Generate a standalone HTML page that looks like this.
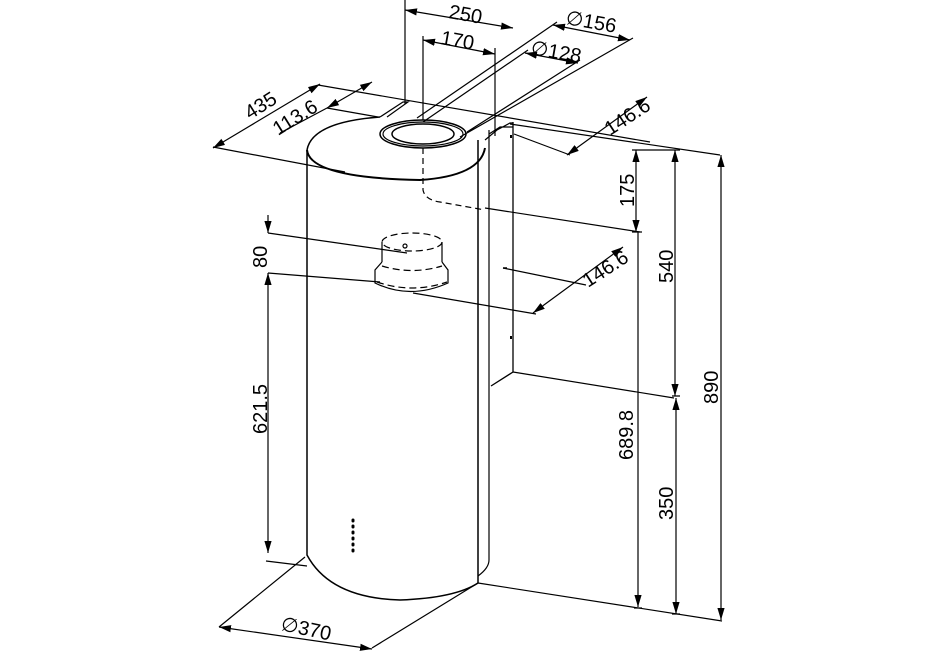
<!DOCTYPE html>
<html><head><meta charset="utf-8"><style>
html,body{margin:0;padding:0;background:#fff;}
svg{display:block;}
text{font-family:"Liberation Sans",Arial,sans-serif;font-size:20px;fill:#000;}
</style></head><body>
<svg width="934" height="655" viewBox="0 0 934 655" xmlns="http://www.w3.org/2000/svg">
<defs>
<marker id="a" viewBox="0 0 10 10" refX="10" refY="5" markerWidth="12" markerHeight="12" markerUnits="userSpaceOnUse" orient="auto-start-reverse"><path d="M0,2 L10,5 L0,8 z" fill="#000"/></marker>
</defs>
<g fill="none" stroke="#000" stroke-width="1.2">
<!-- cylinder -->
<path d="M307,150 L307,555 Q330,598 400,600 Q455,598 478,583 L478,140" stroke-width="1.5"/>
<path d="M307,150 Q310,178 420,180 Q480,176 485,148" stroke-width="2"/>
<path d="M307,150 Q312,122 380,117" stroke-width="1.5"/>
<path d="M478,576 Q489,568 489,560 L489,130"/>
<path d="M380,117 L403,102 L408,102 L387,117"/>
<path d="M485,140 L497,130 L510,123 L513,123 M489,134 L500,127 L513,127"/>
<!-- ring -->
<ellipse cx="423" cy="134" rx="43" ry="14" stroke-width="1.5"/>
<ellipse cx="423" cy="134" rx="40" ry="12"/>
<ellipse cx="423" cy="134" rx="31" ry="10" stroke-width="1.5"/>
<!-- dashed duct -->
<path d="M423,148 L423,190 Q425,200 440,202 L485,210" stroke-dasharray="6,4"/>
<!-- wall bracket -->
<path d="M513,122 L513,372 L491,386" stroke-width="1.3"/>
<path d="M513,372 L674,398"/>
<path d="M478,583 L722,621"/>
<path d="M503,268 L507,268" stroke-width="1.5"/>
<path d="M511,135 L511,138 M511,336 L511,339" stroke-width="2"/>
<!-- cone -->
<ellipse cx="412" cy="242" rx="30" ry="9" stroke-dasharray="7,4"/>
<path d="M382,242 L382,262 M442,242 L442,262"/>
<path d="M382,266 Q412,275 442,266" stroke-dasharray="7,4"/>
<path d="M382,262 L375,270 L375,283 Q410,300 448,283 L448,270 L442,262"/>
<path d="M377,282 Q412,294 447,282" stroke-dasharray="7,4"/>
<circle cx="405" cy="246" r="2"/>
<!-- LED dots -->
<g stroke-width="3" stroke-linecap="round"><path d="M353,520 L353,521 M353,526 L353,527 M353,532 L353,533 M353,538 L353,539 M353,544 L353,545 M353,550 L353,551"/></g>
<!-- extension lines -->
<path d="M405,0 L405,104 M423,36 L423,120 M495,48 L495,136"/>
<path d="M417,118 L557,22 M460,137 L633,38 M423,122 L528,50 M467,132 L580,60"/>
<path d="M213,147 L345,172 M318,85 L650,142 M327,108 L378,117 M514,134 L570,155 M510,124 L720,155"/>
<path d="M485,208 L640,232 M503,268 L586,285 M413,293 L536,314 M268,233 L407,253 M268,273 L380,282 M266,561 L307,566"/>
<path d="M219,627 L305,557 M372,648 L478,583"/>
<path d="M632,150 L680,150 M632,232 L642,232 M672,396 L680,396 M634,608 L642,608 M672,614 L680,614"/>
<!-- dimension lines -->
<path d="M405,10 L513,28" marker-start="url(#a)" marker-end="url(#a)"/>
<path d="M423,40 L495,54" marker-start="url(#a)" marker-end="url(#a)"/>
<path d="M553,25 L630,40" marker-start="url(#a)" marker-end="url(#a)"/>
<path d="M525,53 L578,63" marker-start="url(#a)" marker-end="url(#a)"/>
<path d="M213,148 L320,84" marker-start="url(#a)" marker-end="url(#a)"/>
<path d="M280,133 L327,108" />
<path d="M327,108 L372,82" marker-start="url(#a)" marker-end="url(#a)"/>
<path d="M567,155 L647,97" marker-start="url(#a)" marker-end="url(#a)"/>
<path d="M533,313 L623,247" marker-start="url(#a)" marker-end="url(#a)"/>
<path d="M636,150 L636,232" marker-start="url(#a)" marker-end="url(#a)"/>
<path d="M638,232 L638,607" marker-end="url(#a)"/>
<path d="M675,150 L675,396" marker-start="url(#a)" marker-end="url(#a)"/>
<path d="M676,398 L676,614" marker-start="url(#a)" marker-end="url(#a)"/>
<path d="M721,155 L721,620" marker-start="url(#a)" marker-end="url(#a)"/>
<path d="M268,215 L268,233" marker-end="url(#a)"/>
<path d="M268,273 L268,553" marker-start="url(#a)" marker-end="url(#a)"/>
<path d="M219,627 L372,649" marker-start="url(#a)" marker-end="url(#a)"/>
</g>
<!-- labels -->
<text transform="translate(448,18) rotate(10)">250</text>
<text transform="translate(440,44) rotate(10)">170</text>
<text transform="translate(565,24) rotate(10)">∅156</text>
<text transform="translate(530,54) rotate(10)">∅128</text>
<text transform="translate(250,120) rotate(-32)">435</text>
<text transform="translate(278,136) rotate(-32)">113.6</text>
<text transform="translate(610,136) rotate(-33)">146.6</text>
<text transform="translate(588,288) rotate(-33)">146.6</text>
<text transform="translate(634,207) rotate(-90)">175</text>
<text transform="translate(267,268) rotate(-90)">80</text>
<text transform="translate(267,434) rotate(-90)">621.5</text>
<text transform="translate(633,460) rotate(-90)">689.8</text>
<text transform="translate(673,283) rotate(-90)">540</text>
<text transform="translate(673,520) rotate(-90)">350</text>
<text transform="translate(718,404) rotate(-90)">890</text>
<text transform="translate(280,630) rotate(12)">∅370</text>
</svg>
</body></html>
